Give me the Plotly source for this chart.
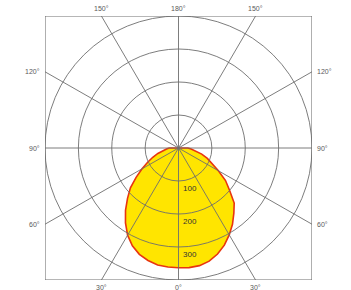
import math
import plotly.graph_objects as go

# Luminous intensity (cd) by gamma angle, two half-planes
gamma = [0, 5, 10, 15, 20, 25, 30, 35, 40, 45, 50, 55, 60, 65, 70, 75, 80, 85, 90]
left_cd = [363, 362, 360, 353, 343, 327, 305, 277, 247, 216, 188, 155, 126, 102, 82, 64, 48, 36, 28]
right_cd = [364, 364, 362, 355, 342, 325, 304, 282, 258, 236, 200, 172, 138, 112, 92, 72, 52, 38, 28]

radii = [100, 200, 300, 400]
radial_labels = ["100", "200", "300"]
spoke_angles = [0, 30, 60, 90, 120, 150, 180, 210, 240, 270, 300, 330]
angle_labels = [
    (0, "0°"), (30, "30°"), (60, "60°"), (90, "90°"), (120, "120°"), (150, "150°"), (180, "180°"),
    (-30, "30°"), (-60, "60°"), (-90, "90°"), (-120, "120°"), (-150, "150°"),
]
RMAX = 400

GRID = "#6e6e6e"
FILL = "#ffe500"
LINE = "#e8350f"
FONT = "Liberation Sans"
LABEL_COLOR = "#5a5a5a"


def to_xy(r, deg, side):
    a = math.radians(deg)
    return side * r * math.sin(a), -r * math.cos(a)


xs, ys = [0.0], [0.0]
for g, v in zip(reversed(gamma), reversed(left_cd)):
    x, y = to_xy(v, g, -1)
    xs.append(x); ys.append(y)
for g, v in zip(gamma[1:], right_cd[1:]):
    x, y = to_xy(v, g, 1)
    xs.append(x); ys.append(y)
xs.append(0.0); ys.append(0.0)

fig = go.Figure()
fig.add_trace(go.Scatter(
    x=xs, y=ys, mode="lines", fill="toself", fillcolor=FILL,
    line=dict(color=LINE, width=1.6), hoverinfo="skip", showlegend=False,
))

shapes = []
for r in radii:
    shapes.append(dict(type="circle", xref="x", yref="y", x0=-r, y0=-r, x1=r, y1=r,
                       line=dict(color=GRID, width=0.9), layer="above"))


def spoke_end(deg):
    a = math.radians(deg)
    sx, sy = math.sin(a), -math.cos(a)
    t = RMAX / max(abs(sx), abs(sy))
    return sx * t, sy * t


for d in spoke_angles:
    ex, ey = spoke_end(d)
    shapes.append(dict(type="line", xref="x", yref="y", x0=0, y0=0, x1=ex, y1=ey,
                       line=dict(color=GRID, width=0.9), layer="above"))
shapes.append(dict(type="rect", xref="x", yref="y", x0=-RMAX, y0=-RMAX, x1=RMAX, y1=RMAX,
                   line=dict(color=GRID, width=1.1), layer="above"))

annotations = []
lab_font = dict(size=7, color=LABEL_COLOR, family=FONT)
for d, txt in angle_labels:
    ex, ey = spoke_end(d)
    on_top_bottom = abs(abs(ey) - RMAX) < 1e-6 and abs(ex) < RMAX - 1e-6
    if on_top_bottom:
        if ey > 0:
            annotations.append(dict(x=ex, y=ey, text=txt, showarrow=False, xanchor="center",
                                    yanchor="bottom", yshift=2, font=lab_font))
        else:
            annotations.append(dict(x=ex, y=ey, text=txt, showarrow=False, xanchor="center",
                                    yanchor="top", yshift=-2, font=lab_font))
    else:
        if ex < 0:
            annotations.append(dict(x=ex, y=ey, text=txt, showarrow=False, xanchor="right",
                                    yanchor="middle", xshift=-3, font=lab_font))
        else:
            annotations.append(dict(x=ex, y=ey, text=txt, showarrow=False, xanchor="left",
                                    yanchor="middle", xshift=3, font=lab_font))

for r, txt in zip(radii, radial_labels):
    annotations.append(dict(x=0, y=-r, text=txt, showarrow=False, xanchor="left", yanchor="top",
                            xshift=2, yshift=-1, font=dict(size=8, color="#333", family=FONT)))

fig.update_layout(
    width=351, height=290,
    margin=dict(l=45, r=39, t=16, b=10),
    paper_bgcolor="white", plot_bgcolor="white",
    xaxis=dict(range=[-RMAX, RMAX], visible=False, fixedrange=True),
    yaxis=dict(range=[-RMAX, RMAX], visible=False, fixedrange=True),
    shapes=shapes, annotations=annotations, showlegend=False,
)

fig.write_html("out.html", config={"displayModeBar": False},
               post_script="document.body.style.margin='0';document.body.style.overflow='hidden';")
